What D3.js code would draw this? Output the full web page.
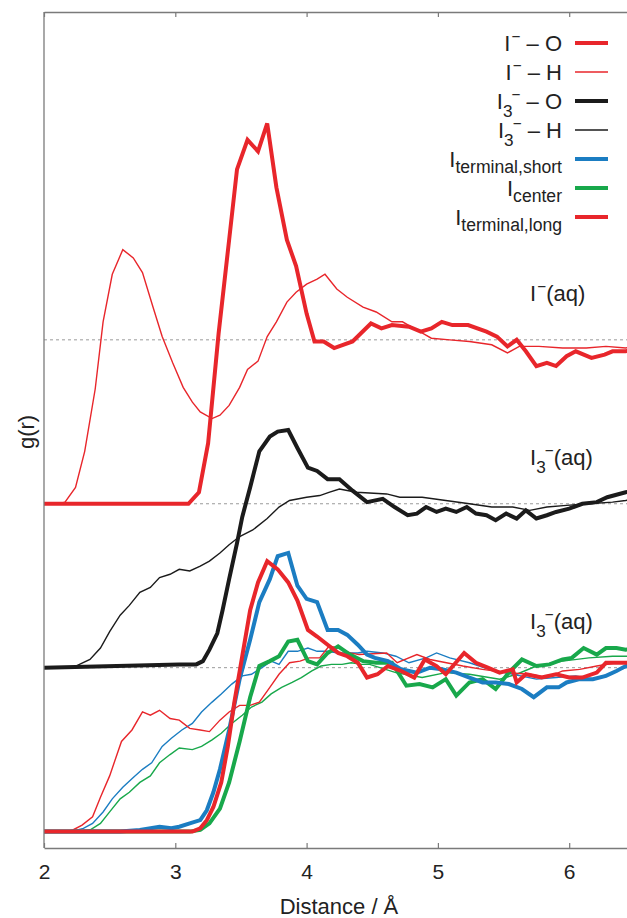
<!DOCTYPE html>
<html>
<head>
<meta charset="utf-8">
<script src="https://cdn.jsdelivr.net/npm/d3@7"></script>
<style>
  body { margin: 0; background: #fff; }
  svg { display: block; font-family: "Liberation Sans", Arial, sans-serif; }
</style>
</head>
<body>
<svg id="chart"></svg>
<script>
const width = 627;
const height = 918;

// g(r) curves, [distance in Å, g(r)] (before vertical offset)
const iodideO = [[2.0,0],[3.1,0],[3.18,0.07],[3.25,0.37],[3.33,1.04],[3.41,1.61],[3.47,2.04],[3.55,2.22],[3.63,2.15],[3.7,2.32],[3.77,1.93],[3.85,1.61],[3.92,1.45],[4.0,1.16],[4.06,0.99],[4.13,0.99],[4.21,0.95],[4.35,0.99],[4.49,1.10],[4.57,1.07],[4.65,1.09],[4.78,1.08],[4.87,1.05],[4.95,1.07],[5.03,1.11],[5.11,1.09],[5.23,1.09],[5.37,1.05],[5.45,1.02],[5.53,0.96],[5.6,1.0],[5.67,0.93],[5.75,0.84],[5.83,0.86],[5.9,0.84],[5.98,0.90],[6.05,0.93],[6.17,0.89],[6.27,0.91],[6.33,0.93],[6.43,0.93],[6.5,0.94]];
const iodideH = [[2.0,0],[2.12,0],[2.16,0.01],[2.24,0.1],[2.31,0.32],[2.39,0.70],[2.45,1.11],[2.52,1.40],[2.6,1.55],[2.68,1.5],[2.75,1.41],[2.83,1.2],[2.9,1.02],[2.98,0.86],[3.06,0.71],[3.13,0.62],[3.19,0.56],[3.28,0.52],[3.34,0.54],[3.41,0.6],[3.49,0.71],[3.55,0.82],[3.63,0.87],[3.7,1.02],[3.77,1.11],[3.85,1.23],[3.92,1.29],[4.0,1.34],[4.08,1.37],[4.14,1.40],[4.23,1.31],[4.31,1.26],[4.43,1.20],[4.53,1.17],[4.65,1.11],[4.73,1.11],[4.84,1.06],[4.95,1.01],[5.09,1.0],[5.24,0.99],[5.41,0.97],[5.53,0.92],[5.62,0.96],[5.77,0.96],[5.95,0.95],[6.13,0.95],[6.28,0.96],[6.43,0.95],[6.5,0.96]];
const triiodideO = [[2.0,0],[3.03,0.02],[3.16,0.02],[3.21,0.04],[3.26,0.11],[3.32,0.21],[3.36,0.35],[3.41,0.54],[3.47,0.76],[3.51,0.92],[3.57,1.10],[3.64,1.32],[3.72,1.41],[3.78,1.44],[3.86,1.45],[3.93,1.34],[4.01,1.22],[4.08,1.20],[4.16,1.15],[4.25,1.15],[4.35,1.08],[4.46,1.01],[4.58,1.03],[4.67,0.98],[4.77,0.93],[4.84,0.94],[4.91,0.98],[4.99,0.95],[5.06,0.97],[5.14,0.95],[5.22,0.98],[5.29,0.94],[5.37,0.93],[5.44,0.90],[5.52,0.94],[5.6,0.91],[5.67,0.96],[5.75,0.91],[5.83,0.93],[5.9,0.95],[6.0,0.97],[6.1,1.0],[6.21,1.01],[6.29,1.04],[6.43,1.07],[6.5,1.08]];
const triiodideH = [[2.0,0],[2.22,0],[2.27,0.02],[2.35,0.05],[2.43,0.12],[2.5,0.22],[2.58,0.32],[2.65,0.38],[2.73,0.46],[2.81,0.49],[2.88,0.55],[2.96,0.57],[3.03,0.6],[3.11,0.59],[3.19,0.62],[3.26,0.65],[3.34,0.70],[3.41,0.75],[3.49,0.8],[3.59,0.84],[3.7,0.91],[3.79,0.98],[3.87,1.02],[4.0,1.04],[4.1,1.05],[4.17,1.07],[4.25,1.09],[4.38,1.07],[4.61,1.06],[4.71,1.04],[4.88,1.04],[5.06,1.02],[5.24,1.0],[5.41,0.98],[5.57,0.98],[5.7,0.96],[5.83,0.98],[5.98,0.99],[6.15,1.0],[6.33,1.01],[6.43,1.02],[6.5,1.03]];
const termShortO = [[2.0,0],[2.58,0],[2.73,0.01],[2.88,0.03],[2.97,0.02],[3.03,0.03],[3.11,0.05],[3.19,0.07],[3.24,0.13],[3.29,0.24],[3.34,0.38],[3.41,0.62],[3.49,0.93],[3.57,1.17],[3.64,1.40],[3.72,1.54],[3.78,1.68],[3.86,1.70],[3.93,1.50],[4.0,1.42],[4.08,1.40],[4.16,1.23],[4.24,1.23],[4.31,1.20],[4.39,1.14],[4.46,1.08],[4.52,1.06],[4.62,1.04],[4.72,0.99],[4.84,0.97],[4.94,1.0],[5.03,0.99],[5.14,0.97],[5.24,0.94],[5.34,0.91],[5.44,0.91],[5.54,0.90],[5.64,0.87],[5.73,0.82],[5.83,0.88],[5.92,0.88],[5.98,0.91],[6.08,0.93],[6.18,0.93],[6.28,0.95],[6.36,0.98],[6.43,1.01],[6.5,1.02]];
const centerO = [[2.0,0],[3.11,0],[3.19,0.01],[3.26,0.05],[3.34,0.14],[3.41,0.30],[3.49,0.55],[3.57,0.82],[3.64,1.01],[3.72,1.04],[3.79,1.07],[3.86,1.16],[3.93,1.17],[4.01,1.04],[4.08,1.02],[4.16,1.09],[4.24,1.13],[4.33,1.08],[4.43,1.04],[4.53,1.03],[4.65,1.03],[4.76,0.89],[4.86,0.90],[4.96,0.88],[5.06,0.93],[5.14,0.83],[5.24,0.91],[5.34,0.93],[5.44,0.87],[5.54,0.97],[5.64,1.05],[5.75,1.01],[5.85,1.02],[5.95,1.05],[6.02,1.06],[6.11,1.12],[6.21,1.08],[6.28,1.12],[6.36,1.12],[6.43,1.11],[6.5,1.12]];
const termLongO = [[2.0,0],[3.13,0],[3.19,0.02],[3.24,0.07],[3.29,0.15],[3.35,0.30],[3.4,0.52],[3.45,0.79],[3.51,1.07],[3.57,1.35],[3.63,1.52],[3.7,1.65],[3.78,1.60],[3.86,1.52],[3.93,1.41],[4.01,1.23],[4.08,1.19],[4.16,1.14],[4.24,1.09],[4.31,1.07],[4.39,1.03],[4.46,0.94],[4.54,0.96],[4.62,1.01],[4.72,0.98],[4.82,0.94],[4.9,1.05],[4.99,1.01],[5.06,0.96],[5.2,1.09],[5.29,1.03],[5.38,1.0],[5.47,0.97],[5.57,0.99],[5.6,0.91],[5.67,0.96],[5.79,0.94],[5.9,0.96],[6.0,0.94],[6.1,0.94],[6.21,0.97],[6.28,1.03],[6.36,1.03],[6.43,1.03],[6.5,1.03]];
const termLongH = [[2.0,0],[2.17,0],[2.22,0.01],[2.29,0.04],[2.37,0.09],[2.43,0.21],[2.5,0.34],[2.59,0.55],[2.67,0.62],[2.75,0.73],[2.81,0.71],[2.88,0.74],[2.96,0.69],[3.03,0.68],[3.11,0.63],[3.19,0.62],[3.26,0.61],[3.34,0.68],[3.41,0.73],[3.49,0.77],[3.57,0.77],[3.64,0.79],[3.72,0.88],[3.79,0.96],[3.87,1.03],[3.95,1.04],[4.02,1.06],[4.1,1.06],[4.17,1.13],[4.25,1.12],[4.33,1.09],[4.4,1.08],[4.61,1.09],[4.69,1.03],[4.84,1.08],[4.94,1.05],[5.19,1.01],[5.34,0.99],[5.52,0.97],[5.7,0.96],[5.83,0.94],[5.95,0.98],[6.08,0.99],[6.21,1.01],[6.36,1.03],[6.43,1.03],[6.5,1.03]];
const termShortH = [[2.0,0],[2.2,0],[2.3,0.02],[2.37,0.05],[2.45,0.12],[2.52,0.20],[2.6,0.27],[2.68,0.33],[2.75,0.38],[2.82,0.42],[2.9,0.52],[2.97,0.57],[3.05,0.62],[3.13,0.66],[3.2,0.73],[3.28,0.79],[3.35,0.84],[3.43,0.90],[3.51,0.95],[3.58,0.96],[3.66,1.0],[3.73,1.04],[3.79,1.02],[3.86,1.10],[3.93,1.10],[4.01,1.12],[4.08,1.10],[4.16,1.10],[4.24,1.09],[4.31,1.09],[4.39,1.09],[4.46,1.10],[4.58,1.09],[4.68,1.07],[4.78,1.03],[4.91,1.06],[4.99,1.09],[5.09,1.06],[5.24,1.03],[5.39,0.99],[5.57,0.96],[5.75,0.93],[5.9,0.94],[6.05,0.95],[6.17,0.93],[6.3,0.96],[6.43,1.0],[6.5,1.01]];
const centerH = [[2.0,0],[2.22,0],[2.35,0.01],[2.43,0.05],[2.5,0.12],[2.58,0.20],[2.65,0.24],[2.73,0.30],[2.81,0.34],[2.88,0.42],[2.96,0.47],[3.03,0.51],[3.13,0.50],[3.2,0.52],[3.28,0.56],[3.35,0.60],[3.43,0.66],[3.51,0.71],[3.58,0.76],[3.66,0.79],[3.73,0.84],[3.81,0.88],[3.89,0.91],[3.96,0.94],[4.04,0.98],[4.11,1.01],[4.19,1.02],[4.27,1.02],[4.34,1.03],[4.42,1.02],[4.48,1.02],[4.68,0.97],[4.88,0.94],[5.06,0.97],[5.24,0.96],[5.47,0.93],[5.6,0.96],[5.75,1.01],[5.95,1.04],[6.15,1.06],[6.33,1.07],[6.43,1.07],[6.5,1.07]];

const xTicks = [2, 3, 4, 5, 6];
const referenceLines = [1, 2, 3];   // g(r) = 1 for each stacked group

const red = "#e8262b", black = "#1b1b1b", blue = "#1b7dc2", green = "#18a84b";

// draw order: thin first, thick on top
const series = [
    { data: iodideH, offset: 2, color: red, w: 1.4 },
    { data: iodideO, offset: 2, color: red, w: 4 },
    { data: triiodideH, offset: 1, color: black, w: 1.4 },
    { data: triiodideO, offset: 1, color: black, w: 4 },
    { data: centerH, offset: 0, color: green, w: 1.4 },
    { data: termShortH, offset: 0, color: blue, w: 1.4 },
    { data: termLongH, offset: 0, color: red, w: 1.4 },
    { data: centerO, offset: 0, color: green, w: 4 },
    { data: termShortO, offset: 0, color: blue, w: 4 },
    { data: termLongO, offset: 0, color: red, w: 4 }
];

const legendItems = [
    { base: "I", sub: "", sup: "\u2212", tail: " \u2013 O", color: red, w: 4 },
    { base: "I", sub: "", sup: "\u2212", tail: " \u2013 H", color: red, w: 1.4 },
    { base: "I", sub: "3", sup: "\u2212", tail: " \u2013 O", color: black, w: 4 },
    { base: "I", sub: "3", sup: "\u2212", tail: " \u2013 H", color: black, w: 1.4 },
    { base: "I", sub: "terminal,short", sup: "", tail: "", color: blue, w: 4 },
    { base: "I", sub: "center", sup: "", tail: "", color: green, w: 4 },
    { base: "I", sub: "terminal,long", sup: "", tail: "", color: red, w: 4 }
];

// annotation per stacked group, placed above the group's g(r)=1 line
const groupLabels = [
    { sub: "", level: 3 },
    { sub: "3", level: 2 },
    { sub: "3", level: 1 }
];

const margin = { top: 12, right: 0, bottom: 70, left: 44 };

const svg = d3.select("#chart")
    .attr("width", width)
    .attr("height", height);

const x = d3.scaleLinear()
    .domain([2, 6.5])
    .range([margin.left, margin.left + 4.5 * 131.3]);

const y = d3.scaleLinear()
    .domain([-0.1, 5.0])
    .range([height - margin.bottom, margin.top]);

svg.append("defs").append("clipPath")
    .attr("id", "plot-clip")
    .append("rect")
    .attr("x", margin.left)
    .attr("y", margin.top)
    .attr("width", width - margin.left)
    .attr("height", height - margin.bottom - margin.top);

const plot = svg.append("g").attr("clip-path", "url(#plot-clip)");

plot.selectAll(".ref")
    .data(referenceLines)
    .enter()
    .append("line")
    .attr("class", "ref")
    .attr("x1", margin.left)
    .attr("x2", width)
    .attr("y1", d => y(d))
    .attr("y2", d => y(d))
    .attr("stroke", "#9a9a9a")
    .attr("stroke-width", 1)
    .attr("stroke-dasharray", "3,3");

const line = d3.line()
    .x(d => x(d[0]))
    .y(d => y(d[1]));

plot.selectAll(".curve")
    .data(series)
    .enter()
    .append("path")
    .attr("class", "curve")
    .attr("d", s => line(s.data.map(p => [p[0], p[1] + s.offset])))
    .attr("fill", "none")
    .attr("stroke", s => s.color)
    .attr("stroke-width", s => s.w)
    .attr("stroke-linejoin", "miter")
    .attr("stroke-miterlimit", 3);

// axes: ticks point inward, top axis mirrors the bottom one
const xAxis = svg.append("g")
    .attr("transform", `translate(0,${height - margin.bottom})`)
    .call(d3.axisBottom(x).tickValues(xTicks).tickSize(-5).tickSizeOuter(0).tickPadding(16).tickFormat(d3.format("d")));

const topAxis = svg.append("g")
    .attr("transform", `translate(0,${margin.top})`)
    .call(d3.axisTop(x).tickValues(xTicks).tickSize(-5).tickSizeOuter(0).tickFormat(""));

[xAxis, topAxis].forEach(a => {
    a.select(".domain").attr("stroke", "#7a7a7a").attr("stroke-width", 1.3);
    a.selectAll(".tick line").attr("stroke", "#7a7a7a").attr("stroke-width", 1.2);
});
xAxis.selectAll(".tick text")
    .attr("font-size", 21)
    .attr("fill", "#222")
    .attr("font-family", "Liberation Sans, Arial, sans-serif");

svg.append("line")
    .attr("x1", margin.left)
    .attr("x2", margin.left)
    .attr("y1", margin.top)
    .attr("y2", height - margin.bottom)
    .attr("stroke", "#7a7a7a")
    .attr("stroke-width", 1.3);

svg.append("text")
    .attr("x", 339)
    .attr("y", 914)
    .attr("text-anchor", "middle")
    .attr("font-size", 22)
    .attr("fill", "#222")
    .text("Distance / \u00c5");

svg.append("text")
    .attr("transform", "translate(34,432) rotate(-90)")
    .attr("text-anchor", "middle")
    .attr("font-size", 22)
    .attr("fill", "#222")
    .text("g(r)");

// I with optional subscript and superscript minus; tail goes back to the baseline
function ionLabel(sel, d, size) {
    let shift = 0;
    sel.append("tspan").text(d.base);
    if (d.sub) {
        const dy = d.sub.length > 1 ? 6 : 8;
        sel.append("tspan")
            .attr("dy", dy)
            .attr("font-size", size * (d.sub.length > 1 ? 0.8 : 0.78))
            .text(d.sub);
        shift += dy;
    }
    if (d.sup) {
        const dy = -9 - shift;
        sel.append("tspan")
            .attr("dy", dy)
            .attr("dx", d.sub ? -1 : 1)
            .attr("font-size", size * 0.7)
            .text(d.sup);
        shift += dy;
    }
    if (d.tail) {
        sel.append("tspan")
            .attr("dy", -shift)
            .attr("font-size", size)
            .text(d.tail);
    }
}

const legend = svg.append("g");
const legendRow = legend.selectAll(".legend-item")
    .data(legendItems)
    .enter()
    .append("g")
    .attr("class", "legend-item")
    .attr("transform", (d, i) => `translate(0,${43 + i * 29})`);

legendRow.append("line")
    .attr("x1", 575)
    .attr("x2", 608)
    .attr("stroke", d => d.color)
    .attr("stroke-width", d => d.w);

legendRow.append("text")
    .attr("x", 562)
    .attr("y", 8)
    .attr("text-anchor", "end")
    .attr("font-size", 22)
    .attr("fill", "#222")
    .each(function(d) { ionLabel(d3.select(this), d, 22); });

svg.selectAll(".group-label")
    .data(groupLabels)
    .enter()
    .append("text")
    .attr("class", "group-label")
    .attr("x", 530)
    .attr("y", d => y(d.level) - 39)
    .attr("font-size", 22)
    .attr("fill", "#222")
    .each(function(d) {
        ionLabel(d3.select(this), { base: "I", sub: d.sub, sup: "\u2212", tail: "(aq)" }, 22);
    });
</script>
</body>
</html>
